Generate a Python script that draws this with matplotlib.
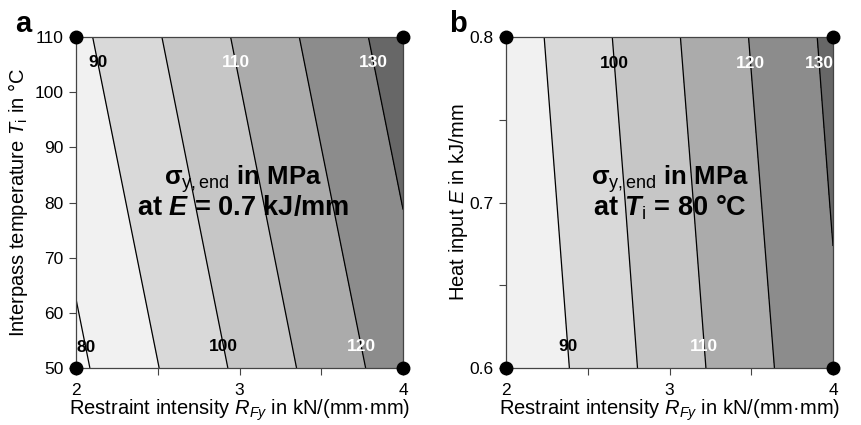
import numpy as np
import matplotlib
matplotlib.use("Agg")
import matplotlib.pyplot as plt
from matplotlib.ticker import MultipleLocator

plt.rcParams['font.family'] = ['Liberation Sans', 'DejaVu Sans']
plt.rcParams['mathtext.fontset'] = 'custom'
plt.rcParams['mathtext.rm'] = 'Liberation Sans'
plt.rcParams['mathtext.it'] = 'Liberation Sans:italic'
plt.rcParams['mathtext.bf'] = 'Liberation Sans:bold'
plt.rcParams['mathtext.bfit'] = 'Liberation Sans:bold:italic'

# restraint intensity grid (x axis of both panels)
R_grid = [2.0, 2.5, 3.0, 3.5, 4.0]

# panel a: interpass temperature, E = 0.7 kJ/mm
T_grid = [50, 70, 90, 110]
sigma_a = [
    [78.0, 89.8, 101.7, 113.6, 125.4],
    [81.2, 93.0, 104.9, 116.8, 128.6],
    [84.4, 96.2, 108.1, 120.0, 131.8],
    [87.6, 99.4, 111.3, 123.2, 135.0],
]

# panel b: heat input, Ti = 80 degC
E_grid = [0.6, 0.7, 0.8]
sigma_b = [
    [80.7, 92.7, 104.7, 116.6, 128.6],
    [82.6, 94.5, 106.5, 118.5, 130.5],
    [84.4, 96.4, 108.4, 120.4, 132.3],
]

line_levels = [80, 90, 100, 110, 120, 130]
fill_levels = [70, 80, 90, 100, 110, 120, 130, 140]
fill_colors = ['#f6f6f6', '#f1f1f1', '#d9d9d9', '#c6c6c6',
               '#ababab', '#8c8c8c', '#676767']

# design corner points
R_corners = [2, 4, 2, 4]
T_corners = [50, 50, 110, 110]
E_corners = [0.6, 0.6, 0.8, 0.8]

# where the contour labels sit
labels_a = [(2.07, 53.8), (2.13, 105.3), (2.90, 53.8), (2.97, 105.3), (3.73, 53.8), (3.81, 105.3)]
labels_b = [(2.38, 0.613), (2.65, 0.784), (3.21, 0.613), (3.49, 0.784), (3.89, 0.784)]

fig = plt.figure(figsize=(8.61, 4.25), dpi=100)
ax_a = fig.add_axes([0.0883, 0.1341, 0.3798, 0.7788])
ax_b = fig.add_axes([0.5877, 0.1341, 0.3798, 0.7788])


def draw_panel(ax, y, z, label_pos, y_corners):
    X, Y = np.meshgrid(R_grid, y)
    Z = np.array(z)
    ax.contourf(X, Y, Z, levels=fill_levels, colors=fill_colors)
    cs = ax.contour(X, Y, Z, levels=line_levels, colors='black', linewidths=0.9)
    txts = ax.clabel(cs, inline=False, manual=label_pos, fmt='%d', fontsize=12.5)
    for t in txts:
        t.set_rotation(0)
        t.set_fontweight('bold')
        t.set_color('white' if float(t.get_text()) >= 110 else 'black')
    ax.plot(R_corners, y_corners, 'o', color='black', ms=9, clip_on=False, zorder=5)
    ax.set_xlim(2, 4)
    ax.set_ylim(y[0], y[-1])
    ax.xaxis.set_major_locator(MultipleLocator(1))
    ax.xaxis.set_minor_locator(MultipleLocator(0.5))
    ax.tick_params(which='both', direction='out', length=5, width=0.8,
                   color='#444444', labelsize=12.5, pad=4)
    ax.tick_params(axis='x', which='both', pad=6)
    for s in ax.spines.values():
        s.set_color('#444444')
        s.set_linewidth(0.9)
    ax.set_xlabel(r'Restraint intensity $R_{Fy}$ in kN/(mm·mm)', fontsize=14.5)
    ax.xaxis.set_label_coords(0.5, -0.09)


def draw_note(ax, x, line2):
    ax.text(x, 0.553, r'σ$_\mathrm{y,end}$ in MPa', transform=ax.transAxes,
            ha='center', va='baseline', fontsize=18.5, fontweight='bold')
    ax.text(x, 0.462, line2, transform=ax.transAxes,
            ha='center', va='baseline', fontsize=19.5, fontweight='bold')


draw_panel(ax_a, T_grid, sigma_a, labels_a, T_corners)
ax_a.yaxis.set_major_locator(MultipleLocator(10))
ax_a.set_ylabel(r'Interpass temperature $T_\mathrm{i}$ in °C', fontsize=14.5)
ax_a.yaxis.set_label_coords(-0.14, 0.5)
draw_note(ax_a, 0.51, r'at $\mathbfit{E}$ = 0.7 kJ/mm')

draw_panel(ax_b, E_grid, sigma_b, labels_b, E_corners)
ax_b.yaxis.set_major_locator(MultipleLocator(0.1))
ax_b.yaxis.set_minor_locator(MultipleLocator(0.05))
ax_b.yaxis.set_major_formatter(plt.FormatStrFormatter('%.1f'))
ax_b.set_ylabel(r'Heat input $E$ in kJ/mm', fontsize=14.5)
ax_b.yaxis.set_label_coords(-0.11, 0.5)
draw_note(ax_b, 0.50, r'at $\mathbfit{T}_\mathrm{i}$ = 80 °C')

fig.text(0.017, 0.925, 'a', fontsize=21, fontweight='bold', va='baseline')
fig.text(0.522, 0.925, 'b', fontsize=21, fontweight='bold', va='baseline')

fig.savefig('out.png', dpi=100)
